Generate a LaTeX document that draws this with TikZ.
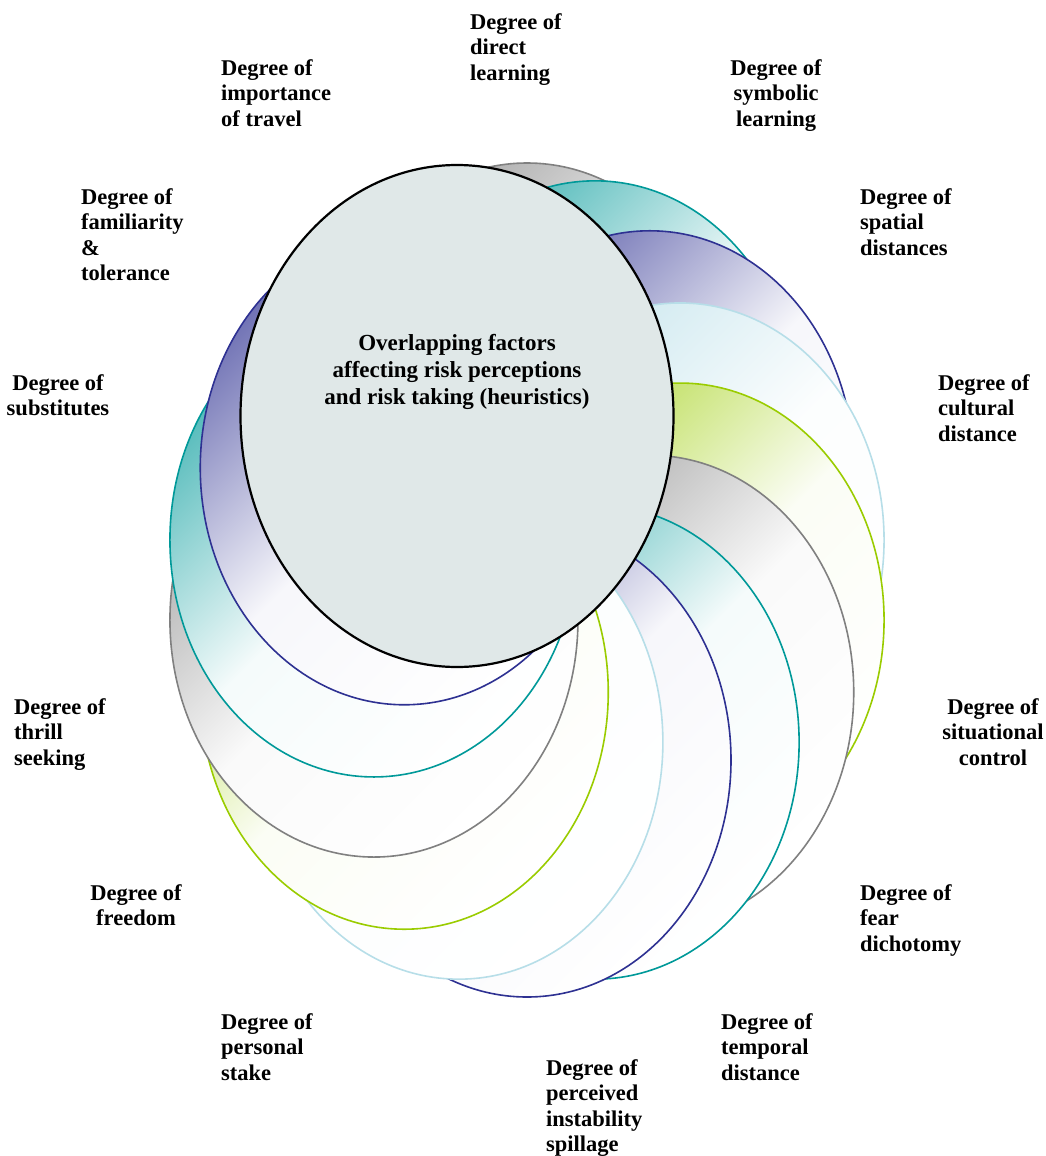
\documentclass[tikz,border=0pt]{standalone}
\usepackage{fontspec}
\setmainfont{Liberation Serif}
\definecolor{cgrey}{RGB}{128,128,128}
\definecolor{cteal}{RGB}{0,153,153}
\definecolor{cnavy}{RGB}{46,49,146}
\definecolor{clblue}{RGB}{183,222,232}
\definecolor{cgreen}{RGB}{154,204,0}
\definecolor{cfill}{RGB}{224,232,232}
\tikzset{
  ring/.style={draw=#1, line width=1.6pt, top color=#1!68!white, bottom color=white,
    middle color=#1!4!white, shading angle=45},
  lbl/.style={font=\bfseries\fontsize{22.5}{25.5}\selectfont, inner sep=0pt,
    align=left, anchor=north west},
  lblc/.style={font=\bfseries\fontsize{22.5}{25.5}\selectfont, inner sep=0pt,
    align=center, anchor=north},
}
\begin{document}
\begin{tikzpicture}[x=1pt,y=-1pt]
\useasboundingbox (0,0) rectangle (1046,1156);
% ring of overlapping ellipses
\foreach \i/\c in {1/cgrey,2/cteal,3/cnavy,4/clblue,5/cgreen,6/cgrey,7/cteal,
                   8/cnavy,9/clblue,10/cgreen,11/cgrey,12/cteal,13/cnavy,14/clblue}{
  \pgfmathsetmacro{\a}{90-(\i-1)*360/14}
  \path[ring=\c] ({527+157*cos(\a)},{580-180*sin(\a)})
     ellipse [x radius=204pt, y radius=237pt];
}
% central ellipse
\draw[line width=2.2pt, fill=cfill] (457,416) ellipse [x radius=216.5pt, y radius=251pt];
\node[font=\bfseries\fontsize{23}{27}\selectfont, align=center, inner sep=0pt]
  (centre) at (457,372) {Overlapping factors\\affecting risk perceptions\\and risk taking (heuristics)};
% labels
\node[lbl]  (direct)    at (470,13)  {Degree of\\direct\\learning};
\node[lbl]  (import)    at (221,59)  {Degree of\\importance\\of travel};
\node[lblc] (symbolic)  at (776,59)  {Degree of\\symbolic\\learning};
\node[lbl]  (spatial)   at (860,188) {Degree of\\spatial\\distances};
\node[lbl]  (cultural)  at (938,374) {Degree of\\cultural\\distance};
\node[lblc] (situation) at (993,698) {Degree of\\situational\\control};
\node[lbl]  (fear)      at (860,884) {Degree of\\fear\\dichotomy};
\node[lbl]  (temporal)  at (721,1013) {Degree of\\temporal\\distance};
\node[lbl]  (perceived) at (546,1059) {Degree of\\perceived\\instability\\spillage};
\node[lbl]  (personal)  at (221,1013) {Degree of\\personal\\stake};
\node[lblc] (freedom)   at (136,884) {Degree of\\freedom};
\node[lbl]  (thrill)    at (14,698)  {Degree of\\thrill\\seeking};
\node[lblc] (subst)     at (58,374)  {Degree of\\substitutes};
\node[lbl]  (familiar)  at (81,188)  {Degree of\\familiarity\\\&\\tolerance};
\end{tikzpicture}
\end{document}
